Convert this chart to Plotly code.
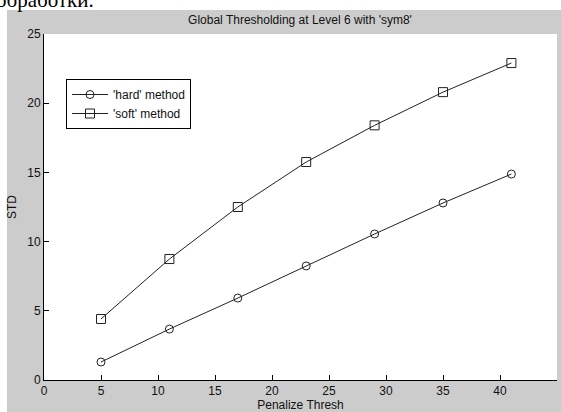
import plotly.graph_objects as go

x_thresh = [5, 11, 17, 23, 29, 35, 41]
hard_std = [1.30, 3.68, 5.92, 8.24, 10.55, 12.79, 14.88]
soft_std = [4.41, 8.74, 12.50, 15.75, 18.40, 20.80, 22.90]
x_ticks = [0, 5, 10, 15, 20, 25, 30, 35, 40, 45]
y_ticks = [0, 5, 10, 15, 20, 25]

W, H = 561, 412
L, R, T, B = 44, 4, 34, 32
pw, ph = W - L - R, H - T - B

def px(xp):
    return (xp - L) / pw

def py(yp):
    return (H - B - yp) / ph

fam = "Liberation Sans, Arial, sans-serif"
font = dict(family=fam, size=12, color="#111111")

fig = go.Figure()
fig.add_trace(go.Scatter(x=x_thresh, y=hard_std, mode="lines+markers", name="'hard' method",
                         line=dict(color="#222222", width=1),
                         marker=dict(symbol="circle-open", size=8, color="#222222", line=dict(width=1))))
fig.add_trace(go.Scatter(x=x_thresh, y=soft_std, mode="lines+markers", name="'soft' method",
                         line=dict(color="#222222", width=1),
                         marker=dict(symbol="square-open", size=9, color="#222222", line=dict(width=1))))

axis_common = dict(showgrid=False, zeroline=False, showline=True, linecolor="#000000", linewidth=1,
                   ticks="inside", ticklen=5, tickcolor="#000000", tickfont=font, mirror=False)

fig.update_layout(
    width=W, height=H,
    margin=dict(l=L, r=R, t=T, b=B, pad=0),
    paper_bgcolor="#cccccc", plot_bgcolor="#ffffff",
    font=font,
    title=dict(text="Global Thresholding at Level 6 with 'sym8'", xref="container", x=300 / W, xanchor="center",
               yref="container", y=1 - 20 / H, yanchor="middle", font=font),
    xaxis=dict(range=[0, 45], tickvals=x_ticks, title=dict(text="Penalize Thresh", standoff=1, font=font), **axis_common),
    yaxis=dict(range=[0, 25], tickvals=y_ticks, title=dict(text="STD", standoff=8, font=font), **axis_common),
    legend=dict(x=px(66), y=py(79), xanchor="left", yanchor="top", bgcolor="#ffffff",
                bordercolor="#000000", borderwidth=1, font=font, itemwidth=36,
                tracegroupgap=0),
    shapes=[
        dict(type="rect", xref="paper", yref="paper", x0=px(-5), x1=px(W + 5), y0=py(10), y1=py(-30),
             fillcolor="#ffffff", line=dict(width=0), layer="above"),
        dict(type="rect", xref="paper", yref="paper", x0=px(-20), x1=px(7), y0=py(H + 5), y1=py(-30),
             fillcolor="#ffffff", line=dict(width=0), layer="above"),
    ],
    annotations=[
        dict(text="обработки.", xref="paper", yref="paper", x=px(-6), y=py(14), xanchor="left", yanchor="bottom",
             showarrow=False, font=dict(family="Liberation Serif, Times New Roman, serif", size=21, color="#000000")),
    ],
)

fig.write_html("out.html", config={"displayModeBar": False},
               post_script="document.body.style.margin='0';document.body.style.overflow='hidden';")
